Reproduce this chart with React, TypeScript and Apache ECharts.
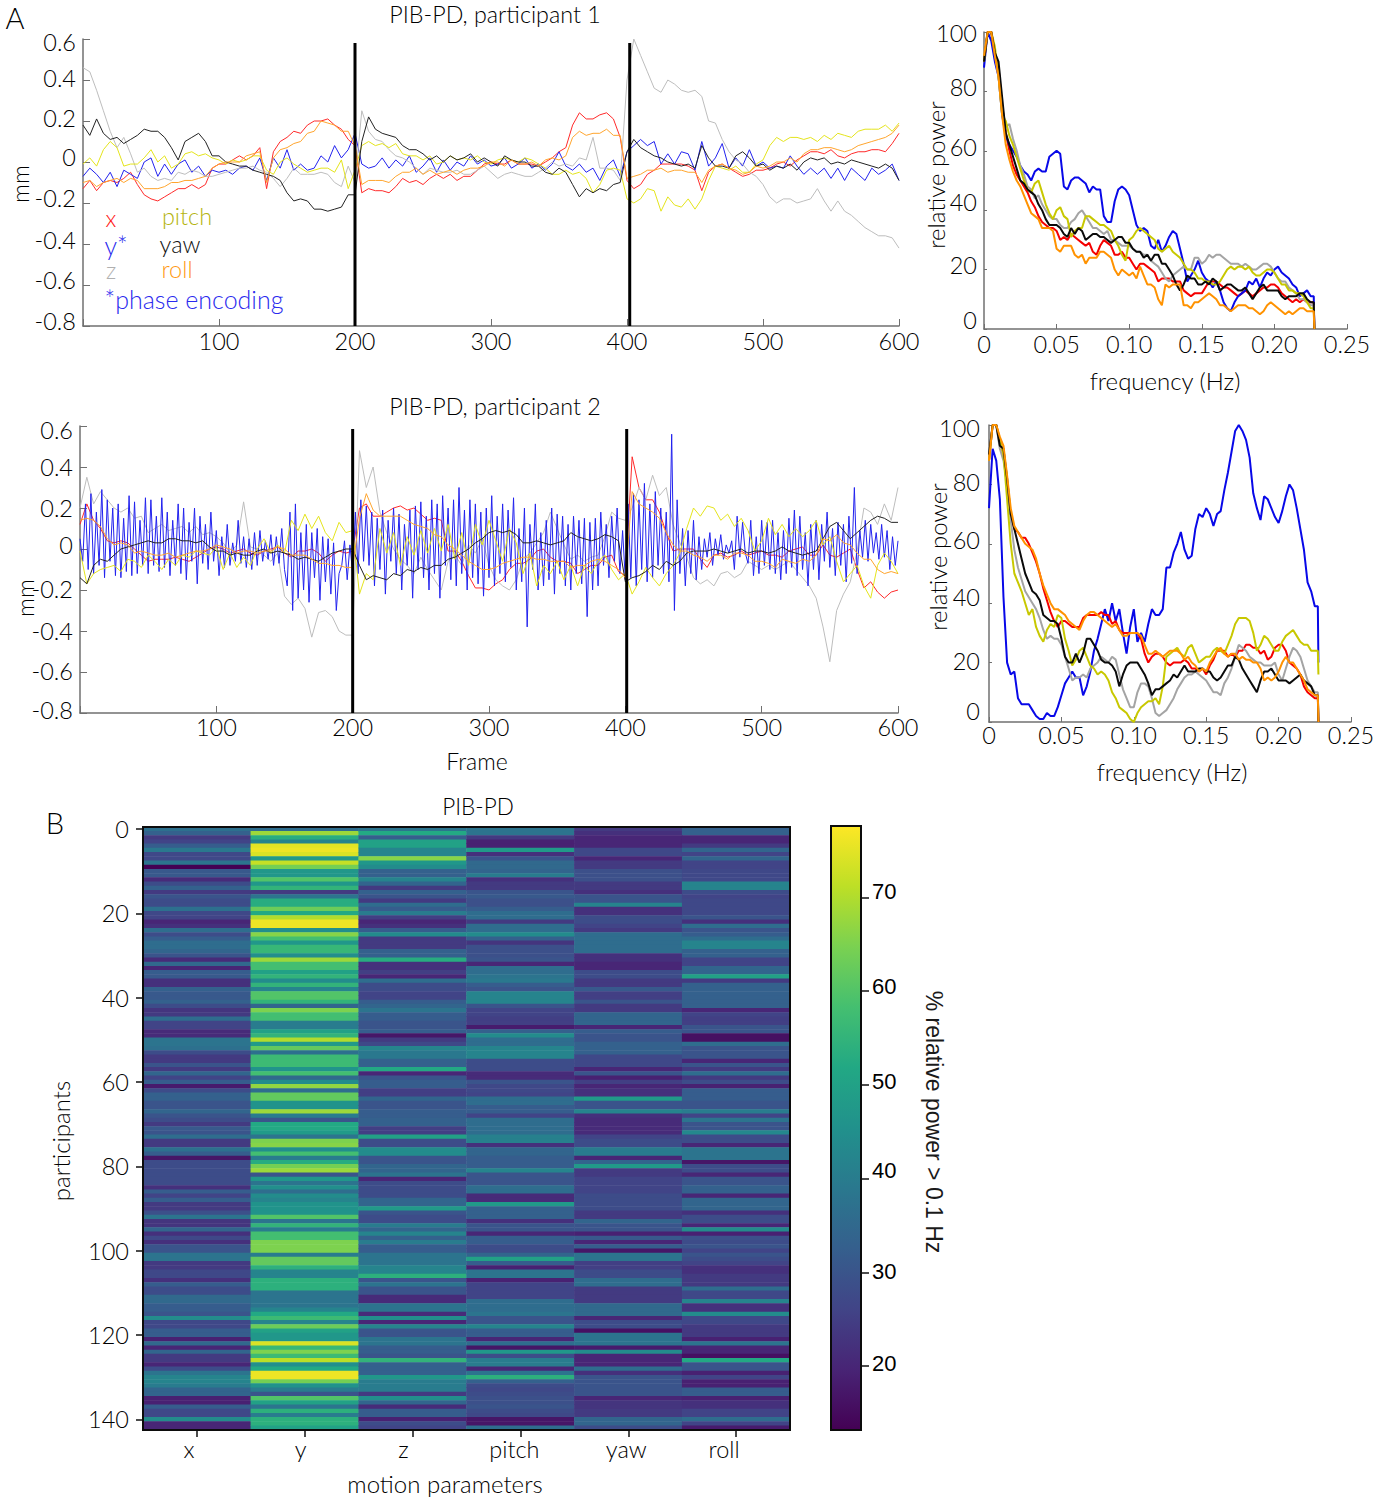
import React, { useEffect, useRef } from "react";
import * as echarts from "echarts";

// ---- Frame-wise motion traces, hundredths of a mm, one value every 5 frames (frame 0..600)
const p1x = [-13,-9,-14,-10,-9,-10,-8,-5,-11,-16,-18,-19,-17,-15,-13,-13,-11,-13,-11,-3,-1,-1,1,3,1,3,7,-13,5,10,12,15,14,18,20,20,21,18,16,11,8,-15,-13,-14,-14,-15,-12,-8,-10,-9,-11,-8,-6,-8,-6,-9,-7,-7,-4,-1,0,-1,-1,1,-1,-1,-1,-2,0,2,5,7,18,24,21,21,23,24,21,12,-9,-13,-11,-6,-4,-1,-1,-1,-1,-2,-4,-14,-5,-2,-1,-3,-5,-7,-6,-4,-4,-3,-1,0,-2,1,3,5,5,4,6,3,2,4,5,5,6,6,5,9,14];
const p1y = [-7,-3,-6,-10,-5,-12,-4,-6,-8,0,2,-7,-1,-6,-1,1,-5,-2,-7,-4,-5,-4,-6,-3,-2,-4,2,-9,2,-3,6,-4,-1,-4,-3,3,0,8,2,6,14,-1,-3,-2,2,-3,1,-2,3,-5,-2,2,-5,1,-4,0,-2,3,-1,1,-2,-1,2,-3,-1,2,-3,-1,-4,-1,5,-2,-4,-1,-5,-3,-9,-2,1,-7,5,8,11,8,10,-1,4,-1,5,4,-4,10,-2,2,9,-3,2,-2,6,-2,0,-3,-2,-3,3,-2,-6,-3,-6,-3,-8,-3,-9,-3,-6,-9,-3,-6,-4,-1,-9];
const p1z = [46,44,35,25,15,7,12,4,-5,-3,-7,-9,-8,-9,-5,-6,-4,-5,-7,-7,-6,-5,-4,-3,-3,-2,-4,-5,-8,-12,-8,-3,-6,-6,-6,-5,-6,-10,-12,-2,-10,25,15,11,10,6,3,2,0,-3,-6,-3,-4,-5,-5,-4,-6,-6,-4,-2,-5,-8,-6,-5,-6,-7,-7,-5,-3,0,-2,-1,-2,2,1,12,-3,-3,-4,-9,40,60,52,44,36,34,40,38,35,34,35,32,20,19,11,5,1,-1,-5,-7,-11,-17,-20,-18,-18,-20,-19,-18,-13,-19,-24,-19,-24,-26,-29,-32,-34,-36,-36,-37,-42];
const p1pitch = [-1,2,-2,6,10,7,-2,-1,-1,2,6,0,3,-3,-1,4,5,3,4,2,1,-1,1,0,1,3,3,-4,-6,0,2,-1,-3,-5,-4,-3,-3,-5,1,-13,-4,8,10,8,9,7,9,4,3,3,1,3,-1,0,3,1,2,1,3,0,-1,1,2,1,0,2,1,-1,-3,-6,-6,-4,-6,-5,-8,-15,-11,-4,-3,-4,-18,-20,-18,-13,-14,-24,-17,-21,-22,-18,-23,-18,-9,-2,-3,-4,-2,-5,-5,-1,1,8,12,10,12,12,11,12,10,13,11,14,13,12,15,16,16,16,18,15,19];
const p1yaw = [18,13,21,14,11,12,9,11,13,16,15,15,12,7,1,10,12,14,10,3,3,0,-1,-2,-2,-4,-5,-6,-7,-9,-15,-19,-18,-19,-23,-23,-24,-23,-22,-16,-16,10,22,16,14,13,12,8,6,6,4,1,3,0,3,1,2,4,0,2,0,-2,3,1,0,0,-2,-2,-5,-6,-3,-5,-11,-17,-13,-15,-13,-14,-11,-10,5,11,7,5,3,2,0,-1,-2,-1,-3,8,2,-2,-2,-3,3,5,2,-2,-1,-4,-2,-3,-1,-4,0,2,1,2,-1,0,-1,1,0,-1,-2,-3,-1,-3,-9];
const p1roll = [-10,-9,-12,-10,-9,-8,-10,-8,-9,-13,-13,-13,-12,-10,-10,-9,-9,-8,-7,-3,-1,0,0,0,3,4,5,-10,2,6,7,9,10,14,15,20,19,18,15,15,8,-11,-9,-9,-9,-10,-7,-5,-5,-3,-6,-4,-6,-5,-4,-6,-4,-3,-3,-2,0,0,-2,1,-1,-1,0,-2,1,2,1,3,12,15,13,14,14,16,13,13,-8,-7,-6,-4,-4,-3,-5,-4,-4,-5,-5,-10,-4,-2,-1,-3,-4,-6,-5,-2,-3,-2,0,0,2,0,4,6,6,7,7,6,5,6,8,9,10,11,12,14,18];

const p2x = [12,22,14,10,4,3,4,3,0,-3,-6,-5,-5,-5,-4,-5,-6,-4,-2,0,1,0,-2,-1,0,-2,-3,-1,0,1,-2,-4,-1,-1,0,-2,-6,-3,-1,-2,-1,20,22,16,16,18,20,21,19,20,17,14,15,14,-1,-1,-6,-13,-19,-19,-20,-17,-15,-10,-7,-7,-5,-1,0,-4,-6,-6,-7,-12,-10,-8,-8,-4,-3,-11,-13,45,30,24,24,18,8,-1,0,0,0,-5,-9,-3,-2,-4,-3,-1,-3,-2,-1,-3,-3,-4,-1,0,1,-3,-3,2,-3,-4,-2,0,-10,-19,-16,-21,-24,-21,-20];
const p2z = [20,35,22,28,24,20,18,20,15,16,8,10,12,9,10,11,8,11,7,8,6,3,-2,2,23,1,0,-3,-6,-2,-23,-27,-24,-29,-43,-31,-30,-33,-40,-42,-42,48,30,40,18,8,0,-5,-8,-12,-4,-10,-15,-20,-6,-3,-8,2,-2,5,-8,-15,-18,-20,-15,-5,-2,3,8,18,10,2,-5,-3,-6,-4,-3,6,18,15,14,20,30,24,36,26,30,12,3,-4,-14,-17,-15,-18,-12,-11,-14,-12,-6,-8,-10,-8,-10,-8,-6,-10,-14,-18,-24,-38,-55,-30,-22,-16,-1,20,18,12,22,14,30];
const p2pitch = [-1,-17,-12,-10,-9,-8,-11,-5,-6,-9,-3,-6,-10,-5,-8,-3,-4,-1,-2,-3,1,-10,-2,-9,-4,-8,0,5,-2,2,-2,14,9,17,10,16,8,4,13,8,9,-22,-12,-15,10,-2,8,-8,6,-3,9,-2,10,-1,12,-5,8,-8,12,2,14,4,-6,10,3,-12,-2,-18,-8,-12,-6,-15,-8,-18,-8,-12,-6,-3,-10,-15,-12,-22,-16,-9,-14,-18,-12,-8,-2,10,20,16,21,20,14,17,11,15,9,-1,4,15,7,12,6,10,6,9,14,2,6,-6,-16,-12,-8,-18,-24,-8,-2,-6,-12];
const p2yaw = [-14,-17,-8,-5,-6,-3,0,1,2,3,4,3,3,5,5,4,4,3,4,1,-1,-1,-3,-2,-3,-3,-1,0,-2,-1,-2,-3,-5,-4,-5,-6,-4,-2,-1,0,0,-8,-15,-13,-14,-15,-12,-13,-10,-11,-9,-10,-8,-8,-5,-4,-2,0,3,5,8,9,8,9,7,3,3,4,3,2,3,4,8,6,5,4,5,7,6,4,-16,-14,-13,-11,-8,-10,-6,-8,-6,-2,-1,-1,-1,0,-1,-2,-1,0,-2,-1,-1,-2,-1,1,-1,-2,-3,-2,-1,5,11,13,9,5,8,11,14,16,15,13,13];
const p2roll = [14,15,14,11,5,2,3,2,-2,-1,-2,-3,-3,-2,-4,-3,-2,-1,-1,0,2,1,0,-2,-1,-1,-2,-1,-1,1,0,-3,-3,-3,-5,-7,-7,-8,-8,-9,-9,15,27,19,16,16,16,16,14,12,11,10,7,6,2,0,-3,-6,-8,-10,-10,-9,-7,-6,-5,-4,-4,-5,-5,-6,-6,-6,-9,-8,-8,-6,-5,-6,-8,-10,-14,28,22,20,18,15,8,2,-1,-1,-3,-4,-6,-3,-3,-5,-2,-2,-3,-6,-6,-7,-9,-5,-6,-7,-5,-6,-3,5,4,7,3,2,-2,-5,-5,-10,-12,-11,-12];
// participant 2's y trace alternates quickly, so it is read every 2 frames
const p2y = [5,-6,22,-10,27,-12,18,-8,29,-14,24,-6,20,-13,22,-14,15,-11,26,-13,23,-12,14,-8,25,-12,24,-8,16,-11,25,-9,18,-13,14,-8,22,-12,20,-15,13,-6,20,-17,16,-7,12,-10,18,-6,9,-13,6,-9,12,-8,3,-6,14,-7,6,-9,5,-10,8,-8,9,-6,4,-5,7,-8,6,-7,10,-10,-18,18,-30,22,-24,8,-20,12,-26,8,-14,10,-25,6,-16,5,-22,3,-30,-12,-8,4,-15,2,-12,18,-12,24,-6,21,-8,18,-18,15,-10,19,-22,14,-6,20,-12,17,-20,12,-8,19,-24,21,-10,23,-14,16,-20,24,-12,22,-24,26,-8,20,-15,24,-18,30,-12,19,-20,24,-14,22,-17,18,-23,20,-14,26,-18,16,-12,22,-16,19,-9,25,-20,10,-16,20,-38,12,-10,22,-20,8,-18,14,-15,20,-22,17,-12,16,-18,12,-20,16,-12,14,-17,15,-33,13,-20,15,-18,18,-8,12,-14,16,-6,20,-12,9,-15,22,-14,27,-18,24,-10,32,-16,22,-14,28,-8,20,-12,18,-16,56,-30,24,-12,10,-18,9,-12,14,-15,6,-10,5,-4,8,-8,5,-3,7,-5,2,-2,4,-10,16,-4,13,-2,-7,14,-13,6,-12,14,-8,13,-10,14,-12,8,-15,9,-12,15,-9,19,-13,16,-10,8,-18,12,-10,14,-15,12,-6,18,-9,10,-13,13,-8,12,-16,16,-7,30,-12,9,-4,14,-6,12,-2,8,-5,12,-4,9,-10,6,-8,4];

// ---- Block boundary frames
const p1BoundaryFrames = [200, 402];
const p2BoundaryFrames = [200, 401];
const p1BoundarySpan = [0.58, -0.8];
const p2BoundarySpan = [0.585, -0.8];

// ---- Relative power spectra, one value every 0.0025 Hz
const s1x = [90,100,100,93,88,75,66,60,55,52,50,48,46,43,41,38,36,35,34,34,33,30,31,30,32,31,30,29,28,29,26,25,28,30,29,28,25,25,26,24,24,22,20,22,22,21,20,19,16,17,17,17,16,16,16,13,12,11,12,12,12,14,16,16,16,15,14,14,13,12,11,12,13,12,11,12,13,14,14,15,15,14,12,11,10,9,10,9,10,9,9];
const s1y = [88,100,97,90,85,72,65,62,60,58,55,53,52,50,53,54,53,53,58,59,60,59,48,47,50,51,51,50,49,46,48,47,47,38,36,36,43,47,48,47,45,40,35,33,34,33,28,27,30,26,28,31,33,32,27,22,16,18,20,23,19,17,16,14,16,13,9,7,6,9,11,12,13,16,15,17,14,17,19,18,20,21,19,18,17,15,14,11,12,13,11];
const s1z = [92,100,100,93,85,75,68,69,64,60,55,52,48,47,44,45,42,40,38,37,37,35,34,34,36,37,39,40,38,36,34,34,33,32,33,30,30,29,28,28,28,27,26,26,25,25,23,22,21,19,17,16,18,19,20,21,20,20,24,24,22,23,25,24,25,25,24,23,22,22,22,21,22,21,20,20,21,22,22,21,19,17,16,16,14,13,12,10,10,9,8];
const s1pitch = [90,100,100,95,85,72,70,65,62,58,54,50,47,46,49,50,46,42,39,37,40,41,38,37,31,33,34,34,38,38,37,36,35,35,34,33,30,28,25,23,30,31,33,34,33,32,31,30,27,26,27,28,26,25,24,22,20,20,19,17,17,16,16,15,15,16,18,20,21,20,21,21,20,21,19,18,18,19,20,20,19,17,15,15,13,13,12,12,11,9,7];
const s1yaw = [90,100,100,93,90,78,66,62,58,54,50,49,47,46,45,42,40,37,35,35,35,34,32,31,34,32,34,33,30,31,32,32,31,31,30,29,30,31,31,29,29,27,26,26,24,25,23,25,25,22,22,20,18,15,13,15,18,17,17,15,15,16,15,17,16,13,14,15,15,14,13,13,14,12,10,12,14,15,13,13,13,13,11,10,11,11,11,12,12,10,9];
const s1roll = [92,100,100,92,85,72,62,57,53,50,48,45,42,39,38,37,34,34,34,33,27,26,28,28,28,25,24,25,22,24,24,24,26,26,25,24,20,18,20,19,18,19,17,21,18,15,15,14,10,8,15,14,15,15,15,8,8,7,9,9,10,11,12,11,10,8,8,7,6,7,8,8,8,7,7,6,5,6,8,9,8,7,6,5,6,5,6,7,7,6,6];
const s1Ends = [0, 0, 0, 0, 0, 0];

const s2x = [88,100,100,95,90,80,70,65,64,62,62,60,57,54,50,45,41,37,34,32,34,34,33,32,32,32,35,36,36,36,36,37,36,36,33,34,31,30,30,30,30,30,28,23,20,22,23,23,22,20,19,20,20,20,21,20,18,18,17,18,16,19,21,24,24,24,22,23,22,24,24,26,26,25,25,23,24,21,22,25,26,26,24,20,19,18,16,12,10,9,8];
const s2y = [72,92,88,75,42,20,16,17,8,6,6,6,4,2,1,1,3,2,2,5,9,13,15,17,15,15,9,12,17,24,28,33,38,34,40,34,38,30,23,32,38,27,30,27,33,38,36,36,38,52,52,57,60,64,58,55,56,65,70,69,72,70,66,70,71,78,84,91,98,100,98,95,89,77,72,68,76,75,72,69,67,71,76,80,78,72,65,58,47,44,39];
const s2z = [88,100,100,92,88,80,68,58,52,48,44,42,40,38,35,31,28,29,28,28,26,22,18,14,15,15,16,15,18,19,20,22,21,20,22,21,16,11,8,5,5,10,13,13,12,8,3,2,3,4,6,8,11,13,15,16,16,17,16,15,14,12,10,10,9,13,15,18,22,26,25,24,22,21,20,20,19,19,19,20,16,14,18,22,25,24,22,18,14,12,10];
const s2pitch = [88,100,100,95,90,75,60,50,47,44,40,36,38,32,29,27,31,33,32,36,35,28,24,19,21,24,25,22,19,18,16,17,16,14,10,8,5,4,3,1,0,3,5,6,7,7,8,6,12,22,23,24,25,23,22,25,26,23,20,21,22,22,24,25,24,23,26,29,33,35,35,35,34,30,24,26,29,28,26,24,24,27,29,30,31,29,27,26,26,24,24];
const s2yaw = [90,100,100,93,92,82,70,65,60,55,50,47,44,43,41,36,35,34,34,33,28,22,20,20,23,20,23,28,28,26,24,21,20,20,19,17,12,16,19,20,20,20,18,16,13,9,11,11,12,13,14,16,15,17,19,17,17,17,18,18,17,17,15,14,15,17,19,19,22,21,18,16,14,12,10,14,17,17,18,16,14,14,14,13,14,15,16,14,13,12,9];
const s2roll = [88,100,100,96,93,83,72,66,64,62,60,59,58,55,50,46,43,40,38,38,37,36,34,33,32,31,34,36,37,37,36,35,34,33,32,33,31,29,29,30,30,30,29,26,23,23,24,23,22,23,24,24,24,23,21,22,20,19,17,18,17,20,22,24,25,23,22,23,23,21,22,21,21,20,20,18,14,15,14,15,17,20,22,20,20,18,16,14,11,10,9];
const s2Ends = [0, 20, 0, 16, 0, 0];

// ---- Heatmap: % relative power > 0.1 Hz, participants 0..142
const hmX = [37,33,24,26,32,39,27,27,38,13,31,31,21,28,33,24,30,28,28,37,27,26,20,22,36,28,32,36,36,34,30,21,35,20,32,31,22,22,33,31,31,33,28,23,24,36,26,26,21,21,38,38,37,28,24,24,30,24,34,26,32,18,28,33,33,30,30,34,30,28,24,31,30,36,24,24,37,32,17,28,28,28,28,28,28,22,32,26,32,24,24,29,38,23,23,34,22,27,22,30,30,38,38,24,24,27,27,22,32,28,28,35,35,32,32,30,44,27,27,32,32,19,35,20,34,24,24,20,28,38,42,42,40,34,34,19,19,32,27,27,44,20,20];
const hmY = [36,68,53,42,75,76,74,48,72,64,47,47,60,47,55,24,38,53,53,63,52,70,76,76,45,66,58,47,56,56,45,68,58,58,50,55,44,55,42,60,60,55,34,65,58,58,40,40,50,55,70,48,62,37,57,57,57,46,58,35,44,67,36,62,62,46,46,68,40,30,52,52,48,38,65,66,45,58,40,53,64,68,30,47,38,45,36,44,42,46,46,46,60,38,55,40,58,58,65,65,65,40,62,62,54,42,42,54,54,54,38,38,38,38,42,52,57,42,63,50,47,47,74,56,65,57,71,45,52,76,76,64,46,40,30,60,50,38,54,40,54,54,50];
const hmZ = [38,52,32,50,50,42,42,66,47,44,33,33,42,34,24,33,30,24,36,32,40,25,20,22,32,44,24,24,24,33,33,53,22,22,25,20,36,28,28,26,26,32,34,38,32,32,30,30,32,17,24,27,42,39,39,33,33,52,20,30,32,32,25,25,34,30,30,32,32,33,33,25,25,50,28,28,44,44,30,30,34,34,38,20,28,28,28,28,34,34,48,30,28,28,40,34,42,33,40,32,32,38,38,38,42,42,54,30,38,30,30,21,21,38,38,21,45,20,42,30,30,38,38,32,32,30,55,33,33,33,47,40,40,40,24,45,34,21,32,32,19,28,26];
const hmPitch = [38,38,24,19,19,48,22,30,35,35,34,40,22,24,24,30,31,29,29,32,36,36,24,36,36,44,33,23,29,29,29,30,20,36,36,38,39,32,30,42,42,42,30,26,26,25,25,18,33,44,36,36,42,42,42,28,28,28,21,21,30,27,27,26,36,36,32,32,26,36,36,36,36,41,41,22,34,34,32,32,32,42,30,30,30,36,36,21,21,48,33,33,33,22,30,30,20,32,32,28,28,34,50,32,19,38,38,19,26,26,26,26,36,36,36,38,30,30,42,32,32,20,36,17,47,28,40,40,20,38,54,33,28,27,28,29,29,30,28,27,17,17,36];
const hmYaw = [24,22,20,20,20,27,27,20,24,24,29,29,29,24,24,22,30,30,42,22,22,28,28,26,24,36,36,36,36,36,22,22,20,20,28,28,24,24,31,25,25,30,24,24,34,34,34,20,32,30,30,33,33,33,27,27,27,20,30,19,25,20,22,22,48,30,30,42,22,21,21,21,21,26,28,28,40,40,20,34,48,24,24,26,26,26,26,28,28,28,28,24,24,34,30,30,19,31,20,32,17,38,38,25,25,28,28,36,36,24,24,24,24,35,35,35,20,28,28,16,38,38,38,18,44,20,20,20,36,22,30,30,30,30,30,20,23,23,24,24,34,34,28];
const hmRoll = [33,33,20,20,24,34,26,34,26,26,27,27,27,42,42,28,26,27,27,27,27,30,22,36,30,32,36,42,42,33,33,26,26,34,34,50,24,33,33,33,33,33,33,20,26,25,25,30,30,16,16,36,30,30,30,20,30,24,36,24,28,19,32,32,32,30,30,40,26,38,30,30,43,28,28,20,38,38,38,17,28,28,20,30,30,33,33,20,34,34,34,22,28,28,20,44,19,29,28,30,26,30,28,26,22,22,24,24,24,36,27,27,42,22,22,44,27,27,24,24,24,19,38,20,20,16,52,30,30,19,26,19,19,32,32,19,22,22,26,26,36,26,18];

// ---- Axis labels
const heatColumns = ["x", "y", "z", "pitch", "yaw", "roll"];
const colorbarTicks = [20, 30, 40, 50, 60, 70];
const viridis = ["#440154", "#482475", "#414487", "#355f8d", "#2a788e", "#21918c", "#22a884", "#44bf70", "#7ad151", "#bddf26", "#fde725"];
const HEAT_MIN = 13.2;
const HEAT_MAX = 77.6;
const FRAME_STEP = 5;
const BLUE_STEP = 2;
const FREQ_STEP = 0.0025;
const FREQ_END = 0.2275;

// ---- Hand-placed label offsets of the original figure (px, bottom tick first)
const p1LabelDy = [-5, -5, -4, -5, -5, -3, -2, 3];
const p2LabelDy = [-3, -1, 0, -1, -4, 0, 0, 4];
const s1LabelDy = [-9, -5, -8, -4, -4, 1];
const s2LabelDy = [-11, -2, -6, -4, -2, 3];
const colorbarLabelDy = [-3, -1, -8, -3, -5, -6];
const heatColumnLabelDx = [-8, -4, -9, -6, -2, -12];

const FONT = "Lato";
const WEIGHT = 300;
const SIZE = 23.5;
const TEXT = "#000000";
const AXIS = "#707070";
const LIGHT = { x: "#ff2a2a", y: "#2222ee", z: "#bdbdbd", pitch: "#e4e41c", yaw: "#222222", roll: "#ffa52e" };
const BOLD = { x: "#f40000", y: "#0808e8", z: "#a4a4a4", pitch: "#c8c800", yaw: "#0a0a0a", roll: "#ff9200" };

function label(text: string, x: number, y: number, size: number, fill = TEXT, rotation = 0, family = FONT) {
  return {
    type: "text", x, y, rotation, silent: true, z: 50,
    style: { text, fontSize: size, fontFamily: family, fontWeight: family === FONT ? WEIGHT : 400, fill, textAlign: "center", textVerticalAlign: "middle" },
  };
}

// rich styles that push each axis label by a few px, the way the figure's labels sit
function richShift(dy: number[], family = FONT, weight: number = WEIGHT, size = SIZE) {
  return Object.fromEntries(dy.map((d, i) => [`s${i}`, {
    padding: d < 0 ? [0, 0, -2 * d, 0] : [2 * d, 0, 0, 0],
    fontFamily: family, fontWeight: weight, fontSize: size, color: TEXT,
  }]));
}

function App() {
  const ref = useRef<HTMLDivElement>(null);
  useEffect(() => {
    const chart = echarts.init(ref.current!, null, { renderer: "svg" });
    const grid: any[] = [];
    const xAxis: any[] = [];
    const yAxis: any[] = [];
    const series: any[] = [];

    const motionPanel = (left: number, top: number, right: number, bottom: number, lines: [number[], string, number][], frames: number[], span: number[], dy: number[], xMargin: number) => {
      const g = grid.length;
      grid.push({ left, top, width: right - left, height: bottom - top });
      const ax = { lineStyle: { color: AXIS, width: 1.5 } };
      xAxis.push({
        gridIndex: g, type: "value", min: 0, max: 600, interval: 100,
        axisLine: { show: true, onZero: false, ...ax }, axisTick: { show: true, inside: true, length: 7, lineStyle: { color: AXIS } }, splitLine: { show: false },
        axisLabel: { margin: xMargin, fontFamily: FONT, fontWeight: WEIGHT, fontSize: SIZE, color: TEXT, formatter: (v: number) => (v === 0 ? "" : String(v)) },
      });
      yAxis.push({
        gridIndex: g, type: "value", min: -0.8, max: 0.6, interval: 0.2,
        axisLine: { show: true, onZero: false, ...ax }, axisTick: { show: true, inside: true, length: 7, lineStyle: { color: AXIS } }, splitLine: { show: false },
        axisLabel: {
          margin: 7, rich: richShift(dy),
          formatter: (v: number) => `{s${Math.round((v + 0.8) / 0.2)}|${Math.abs(v) < 1e-9 ? "0" : v.toFixed(1)}}`,
        },
      });
      lines.forEach(([vals, color, step]) => {
        series.push({
          type: "line", xAxisIndex: g, yAxisIndex: g, symbol: "none", silent: true,
          lineStyle: { color, width: 1 }, data: vals.map((v, i) => [i * step, v / 100]),
        });
      });
      frames.forEach((f) => {
        series.push({
          type: "line", xAxisIndex: g, yAxisIndex: g, symbol: "none", silent: true, z: 5,
          lineStyle: { color: "#000", width: 3 }, data: span.map((v) => [f, v]),
        });
      });
    };

    const spectrumPanel = (left: number, top: number, right: number, bottom: number, lines: [number[], string, number][], dy: number[], xMargin: number, yMargin: number) => {
      const g = grid.length;
      grid.push({ left, top, width: right - left, height: bottom - top });
      const ax = { lineStyle: { color: AXIS, width: 1.5 } };
      xAxis.push({
        gridIndex: g, type: "value", min: 0, max: 0.25, interval: 0.05,
        axisLine: { show: true, onZero: false, ...ax }, axisTick: { show: true, inside: true, length: 5, lineStyle: { color: AXIS } }, splitLine: { show: false },
        axisLabel: { margin: xMargin, fontFamily: FONT, fontWeight: WEIGHT, fontSize: SIZE, color: TEXT, formatter: (v: number) => (v === 0 ? "0" : v.toFixed(2)) },
      });
      yAxis.push({
        gridIndex: g, type: "value", min: 0, max: 100, interval: 20,
        axisLine: { show: true, onZero: false, ...ax }, axisTick: { show: true, inside: true, length: 3, lineStyle: { color: AXIS } }, splitLine: { show: false },
        axisLabel: { margin: yMargin, rich: richShift(dy), formatter: (v: number) => `{s${Math.round(v / 20)}|${v}}` },
      });
      lines.forEach(([vals, color, end]) => {
        series.push({
          type: "line", xAxisIndex: g, yAxisIndex: g, symbol: "none", silent: true, clip: false,
          lineStyle: { color, width: 2 },
          data: [...vals.map((v, i) => [i * FREQ_STEP, v]), [FREQ_END - 0.0004, vals[vals.length - 1]], [FREQ_END, end]],
        });
      });
    };

    motionPanel(83, 39, 899, 326, [
      [p1x, LIGHT.x, FRAME_STEP], [p1y, LIGHT.y, FRAME_STEP], [p1z, LIGHT.z, FRAME_STEP],
      [p1pitch, LIGHT.pitch, FRAME_STEP], [p1yaw, LIGHT.yaw, FRAME_STEP], [p1roll, LIGHT.roll, FRAME_STEP],
    ], p1BoundaryFrames, p1BoundarySpan, p1LabelDy, 3);
    motionPanel(80, 426, 898, 713, [
      [p2x, LIGHT.x, FRAME_STEP], [p2z, LIGHT.z, FRAME_STEP], [p2y, LIGHT.y, BLUE_STEP],
      [p2pitch, LIGHT.pitch, FRAME_STEP], [p2yaw, LIGHT.yaw, FRAME_STEP], [p2roll, LIGHT.roll, FRAME_STEP],
    ], p2BoundaryFrames, p2BoundarySpan, p2LabelDy, 2);
    spectrumPanel(984, 32, 1347, 329, [
      [s1x, BOLD.x, s1Ends[0]], [s1y, BOLD.y, s1Ends[1]], [s1z, BOLD.z, s1Ends[2]],
      [s1pitch, BOLD.pitch, s1Ends[3]], [s1yaw, BOLD.yaw, s1Ends[4]], [s1roll, BOLD.roll, s1Ends[5]],
    ], s1LabelDy, 3, 7);
    spectrumPanel(989, 425, 1351, 722, [
      [s2y, BOLD.y, s2Ends[1]], [s2x, BOLD.x, s2Ends[0]], [s2z, BOLD.z, s2Ends[2]],
      [s2pitch, BOLD.pitch, s2Ends[3]], [s2yaw, BOLD.yaw, s2Ends[4]], [s2roll, BOLD.roll, s2Ends[5]],
    ], s2LabelDy, 1, 9);

    // heatmap
    const hg = grid.length;
    grid.push({ left: 143, top: 827, width: 647, height: 603 });
    const rows = hmX.map((_, i) => String(i));
    xAxis.push({
      gridIndex: hg, type: "category", data: heatColumns, position: "bottom",
      axisLine: { show: false }, axisTick: { show: true, alignWithLabel: true, interval: 0, length: 7, lineStyle: { color: "#111", width: 1.5 } }, splitLine: { show: false },
      axisLabel: {
        show: true, interval: 0, margin: 7,
        formatter: (v: string) => `{s${heatColumns.indexOf(v)}|${v}}`,
        rich: Object.fromEntries(heatColumnLabelDx.map((d, i) => [`s${i}`, { padding: [0, -2 * d, 0, 0], fontFamily: FONT, fontWeight: WEIGHT, fontSize: SIZE, color: TEXT }])),
      },
    });
    yAxis.push({
      gridIndex: hg, type: "category", data: rows, inverse: true,
      axisLine: { show: false }, axisTick: { show: true, alignWithLabel: true, interval: (i: number) => i % 20 === 0, length: 7, lineStyle: { color: "#111", width: 1.5 } }, splitLine: { show: false },
      axisLabel: { show: true, interval: 19, margin: 14, fontFamily: FONT, fontWeight: WEIGHT, fontSize: SIZE, color: TEXT },
    });
    const heatSeriesIndex = series.length;
    const heatCols = [hmX, hmY, hmZ, hmPitch, hmYaw, hmRoll];
    series.push({
      type: "heatmap", xAxisIndex: hg, yAxisIndex: hg, silent: true, progressive: 0,
      data: heatCols.flatMap((col, c) => col.map((v, r) => [c, r, v])),
    });

    // colour bar
    const cg = grid.length;
    grid.push({ left: 831, top: 826, width: 30, height: 604 });
    xAxis.push({ gridIndex: cg, type: "category", data: [""], axisLine: { show: false }, axisTick: { show: false }, axisLabel: { show: false } });
    yAxis.push({
      gridIndex: cg, type: "value", position: "right", min: HEAT_MIN, max: HEAT_MAX, splitLine: { show: false },
      axisLine: { show: false },
      axisTick: { show: true, length: 8, customValues: colorbarTicks, lineStyle: { color: "#111", width: 1.5 } },
      axisLabel: {
        show: true, margin: 11, customValues: colorbarTicks,
        rich: richShift(colorbarLabelDy, "Liberation Sans", 400, 22),
        formatter: (v: number) => `{s${Math.round((v - 20) / 10)}|${v}}`,
      },
    });
    series.push({
      type: "bar", xAxisIndex: cg, yAxisIndex: cg, silent: true, barWidth: "100%",
      itemStyle: {
        color: new echarts.graphic.LinearGradient(0, 1, 0, 0, viridis.map((c, i) => ({ offset: i / (viridis.length - 1), color: c }))),
      },
      data: [HEAT_MAX],
    });

    chart.setOption({
      animation: false,
      backgroundColor: "#fff",
      grid, xAxis, yAxis, series,
      visualMap: {
        show: false, type: "continuous", seriesIndex: heatSeriesIndex, min: HEAT_MIN, max: HEAT_MAX,
        inRange: { color: viridis },
      },
      graphic: [
        label("A", 15, 17, 29),
        label("B", 55, 822, 29),
        label("PIB-PD, participant 1", 495, 14, 23.3),
        label("PIB-PD, participant 2", 495, 406, 23.3),
        label("PIB-PD", 478, 806, 22.5),
        label("mm", 20, 184, 23.5, TEXT, Math.PI / 2),
        label("mm", 25, 598, 23.5, TEXT, Math.PI / 2),
        label("Frame", 477, 761, 23),
        label("relative power", 935, 175, 24, TEXT, Math.PI / 2),
        label("relative power", 937, 557, 24, TEXT, Math.PI / 2),
        label("frequency (Hz)", 1165, 380, 24),
        label("frequency (Hz)", 1172, 771, 24),
        label("x", 111, 218, 23, "#ff1414"),
        label("y*", 116, 245, 25, "#2a2aee"),
        label("z", 111, 270, 23, "#b0b0b0"),
        label("pitch", 187, 216, 23.5, "#b4b410"),
        label("yaw", 180, 244, 23.5, "#111"),
        label("roll", 177, 269, 23.5, "#ff9a14"),
        label("*phase encoding", 194, 299, 25, "#2a2aee"),
        label("participants", 60, 1141, 24, TEXT, Math.PI / 2),
        label("motion parameters", 445, 1483, 24),
        label("% relative power > 0.1 Hz", 934, 1122, 23, "#1a1a1a", -Math.PI / 2, "Liberation Sans"),
        { type: "rect", silent: true, z: 60, shape: { x: 143, y: 827, width: 647, height: 603 }, style: { fill: "none", stroke: "#0c0c0c", lineWidth: 2 } },
        { type: "rect", silent: true, z: 60, shape: { x: 831, y: 826, width: 30, height: 604 }, style: { fill: "none", stroke: "#0c0c0c", lineWidth: 2 } },
      ],
    });
    return () => chart.dispose();
  }, []);
  return <div ref={ref} style={{ position: "absolute", left: 0, top: 0, width: 1379, height: 1500, background: "#fff" }} />;
}

export default App;
